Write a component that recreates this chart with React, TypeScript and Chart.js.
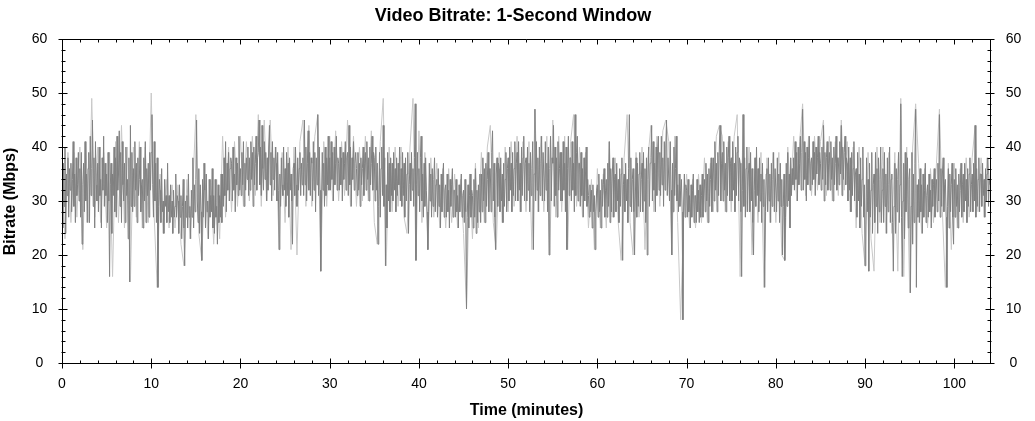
import React, { useEffect, useRef } from "react";
import { Chart, registerables } from "chart.js";

Chart.register(...registerables);

const TITLE = "Video Bitrate: 1-Second Window";
const X_TITLE = "Time (minutes)";
const Y_TITLE = "Bitrate (Mbps)";
const X_MAX = 104;
const Y_MAX = 60;
const X_TICKS = [0, 10, 20, 30, 40, 50, 60, 70, 80, 90, 100];
const Y_TICKS = [0, 10, 20, 30, 40, 50, 60];
const X_MINOR_STEP = 2;
const Y_MINOR_STEP = 2;

// samples per minute of each trace
const DARK_PER_MIN = 12;
const LIGHT_PER_MIN = 3;

// main (dark) trace, Mbps, one row per minute (0..103)
const DARK = [
  33, 25, 37, 29, 40, 24, 35, 31, 38, 27, 36, 32,
  37, 28, 34, 41, 29, 35, 26, 38, 31, 33, 39, 30,
  36, 27, 39, 22, 33, 37, 28, 41, 30, 35, 26, 36,
  39, 26, 42, 31, 36, 45, 29, 38, 25, 41, 33, 30,
  37, 28, 40, 31, 34, 25, 38, 32, 42, 29, 37, 31,
  35, 26, 39, 30, 16, 33, 37, 24, 35, 31, 40, 28,
  38, 27, 42, 32, 35, 43, 29, 39, 26, 41, 33, 30,
  37, 26, 40, 31, 34, 23, 38, 15, 44, 29, 39, 28,
  36, 29, 41, 32, 37, 26, 38, 31, 34, 40, 28, 33,
  34, 25, 38, 30, 41, 26, 36, 31, 37, 27, 39, 32,
  39, 46, 33, 27, 41, 30, 37, 26, 38, 14, 29, 34,
  32, 26, 36, 28, 30, 24, 34, 29, 31, 26, 37, 28,
  31, 26, 33, 27, 30, 24, 32, 27, 29, 35, 27, 31,
  30, 24, 33, 27, 31, 23, 29, 34, 25, 18, 30, 27,
  31, 25, 35, 27, 29, 23, 32, 27, 38, 25, 33, 28,
  34, 45, 30, 26, 36, 24, 33, 28, 19, 34, 27, 37,
  32, 25, 35, 28, 30, 23, 34, 27, 31, 28, 36, 25,
  31, 24, 34, 27, 29, 22, 33, 26, 31, 27, 35, 26,
  35, 29, 38, 31, 41, 28, 37, 32, 39, 30, 36, 38,
  37, 30, 40, 32, 35, 28, 38, 33, 37, 31, 42, 32,
  36, 31, 39, 33, 41, 29, 37, 32, 38, 34, 40, 31,
  38, 32, 41, 34, 39, 29, 40, 33, 37, 42, 32, 38,
  39, 45, 33, 40, 31, 44, 36, 32, 41, 34, 39, 30,
  38, 32, 40, 44, 33, 39, 30, 41, 34, 38, 32, 40,
  37, 30, 39, 32, 21, 35, 29, 38, 33, 31, 40, 32,
  36, 29, 39, 31, 37, 27, 38, 32, 35, 30, 22, 36,
  37, 31, 40, 33, 29, 38, 32, 36, 39, 31, 37, 33,
  38, 31, 45, 33, 40, 30, 37, 43, 32, 39, 31, 38,
  37, 30, 41, 32, 39, 28, 38, 33, 46, 31, 40, 32,
  17, 30, 39, 32, 37, 29, 40, 31, 38, 33, 42, 32,
  38, 32, 41, 34, 39, 30, 40, 33, 37, 42, 32, 38,
  37, 32, 40, 33, 38, 30, 39, 34, 37, 41, 32, 38,
  39, 31, 44, 33, 40, 29, 38, 34, 41, 32, 37, 39,
  36, 31, 39, 32, 37, 29, 38, 33, 36, 40, 31, 37,
  39, 32, 41, 34, 38, 30, 40, 33, 37, 42, 32, 39,
  38, 30, 40, 32, 37, 22, 29, 39, 27, 36, 40, 31,
  44, 29, 38, 18, 33, 25, 39, 30, 37, 28, 38, 31,
  37, 30, 39, 32, 36, 28, 38, 31, 37, 33, 40, 30,
  36, 29, 39, 31, 37, 27, 38, 30, 35, 39, 24, 33,
  37, 30, 39, 32, 36, 29, 38, 48, 19, 33, 39, 31,
  36, 28, 38, 42, 30, 35, 27, 37, 29, 38, 32, 28,
  21, 28, 37, 30, 35, 27, 36, 29, 34, 38, 28, 33,
  34, 27, 36, 29, 33, 25, 35, 28, 34, 37, 27, 32,
  33, 27, 35, 28, 32, 25, 34, 29, 33, 36, 27, 32,
  32, 27, 34, 28, 31, 25, 33, 28, 32, 35, 27, 31,
  32, 26, 34, 28, 10, 27, 33, 25, 31, 35, 27, 32,
  31, 25, 34, 27, 36, 24, 32, 26, 33, 28, 35, 26,
  35, 28, 38, 30, 36, 26, 37, 29, 34, 39, 28, 36,
  36, 28, 39, 43, 30, 37, 27, 21, 35, 38, 29, 37,
  36, 28, 38, 30, 35, 26, 37, 29, 34, 39, 28, 36,
  38, 30, 40, 32, 37, 28, 39, 31, 36, 41, 30, 37,
  39, 30, 41, 32, 37, 28, 40, 31, 38, 42, 30, 37,
  38, 30, 40, 32, 37, 28, 39, 31, 36, 41, 21, 35,
  47, 30, 41, 32, 38, 28, 40, 31, 37, 42, 30, 39,
  39, 30, 41, 32, 37, 28, 40, 20, 36, 42, 30, 38,
  37, 44, 29, 40, 31, 38, 27, 41, 32, 36, 39, 30,
  39, 30, 41, 32, 37, 28, 40, 21, 36, 42, 31, 38,
  38, 30, 41, 32, 37, 28, 46, 31, 39, 42, 30, 37,
  37, 29, 39, 31, 36, 27, 38, 30, 35, 40, 29, 34,
  31, 27, 33, 28, 32, 25, 33, 28, 31, 21, 28, 32,
  33, 27, 35, 28, 32, 25, 34, 29, 33, 36, 27, 32,
  34, 27, 37, 29, 41, 26, 36, 28, 35, 38, 27, 34,
  35, 28, 37, 30, 34, 26, 36, 29, 35, 38, 19, 33,
  35, 28, 37, 30, 34, 26, 36, 46, 29, 38, 28, 34,
  36, 28, 20, 30, 38, 27, 37, 29, 35, 39, 28, 34,
  37, 28, 39, 30, 36, 26, 38, 20, 34, 40, 29, 37,
  38, 44, 30, 41, 32, 37, 28, 40, 31, 39, 42, 32,
  39, 31, 42, 33, 38, 29, 41, 32, 40, 45, 31, 38,
  38, 30, 41, 32, 20, 37, 28, 40, 31, 36, 42, 30,
  33, 28, 35, 29, 32, 34, 28, 8, 30, 35, 27, 33,
  32, 27, 34, 28, 31, 25, 33, 27, 32, 35, 26, 31,
  31, 26, 34, 28, 32, 26, 33, 27, 31, 35, 27, 32,
  34, 28, 37, 30, 35, 26, 36, 29, 34, 38, 28, 35,
  38, 30, 41, 32, 37, 28, 39, 31, 40, 44, 30, 37,
  39, 30, 41, 32, 37, 28, 40, 31, 38, 42, 30, 37,
  38, 30, 41, 32, 37, 28, 40, 31, 39, 42, 30, 38,
  37, 28, 16, 32, 46, 29, 38, 27, 36, 40, 28, 35,
  37, 28, 39, 30, 36, 26, 20, 32, 38, 29, 40, 31,
  36, 28, 38, 30, 35, 26, 37, 29, 34, 14, 28, 35,
  36, 28, 38, 30, 35, 26, 37, 29, 34, 39, 28, 36,
  36, 28, 38, 30, 35, 26, 37, 29, 34, 20, 29, 35,
  19, 27, 37, 29, 39, 30, 35, 25, 38, 31, 36, 33,
  38, 32, 41, 34, 39, 30, 40, 33, 37, 42, 32, 39,
  47, 32, 41, 34, 39, 30, 40, 33, 38, 42, 32, 37,
  38, 33, 41, 34, 39, 31, 40, 35, 38, 42, 33, 39,
  37, 32, 40, 34, 44, 30, 39, 33, 38, 41, 32, 37,
  39, 32, 41, 34, 38, 30, 40, 33, 37, 42, 32, 38,
  38, 33, 41, 35, 44, 31, 40, 34, 39, 42, 33, 38,
  37, 30, 40, 32, 38, 28, 39, 31, 36, 41, 30, 35,
  36, 27, 39, 30, 35, 25, 38, 29, 34, 40, 27, 33,
  18, 25, 38, 28, 34, 17, 37, 27, 32, 39, 24, 33,
  35, 26, 39, 29, 36, 24, 38, 28, 34, 40, 26, 32,
  36, 26, 39, 29, 35, 24, 38, 28, 33, 40, 26, 34,
  35, 26, 17, 29, 37, 24, 36, 28, 34, 39, 26, 33,
  48, 27, 16, 30, 37, 23, 39, 28, 35, 38, 25, 34,
  36, 13, 29, 39, 22, 35, 26, 37, 47, 14, 33, 27,
  34, 26, 36, 28, 33, 24, 35, 27, 32, 37, 26, 31,
  33, 27, 35, 28, 32, 25, 34, 29, 33, 36, 27, 32,
  34, 28, 37, 30, 46, 27, 36, 29, 35, 38, 28, 33,
  34, 27, 14, 29, 36, 25, 35, 28, 33, 37, 27, 22,
  34, 27, 36, 29, 33, 25, 35, 28, 32, 37, 27, 33,
  35, 28, 37, 30, 34, 26, 36, 29, 35, 38, 28, 33,
  35, 28, 37, 30, 44, 27, 36, 29, 34, 38, 28, 35,
  35, 29, 37, 31, 34, 27, 36, 30, 35, 38, 29, 34,
  33,
];

// light (peak) trace, Mbps, one row per 4 minutes
const LIGHT = [
  38, 23, 39, 26, 39, 27, 40, 21, 41, 26, 49, 27,
  40, 26, 39, 25, 39, 16, 41, 26, 44, 25, 40, 15,
  40, 27, 41, 25, 40, 26, 50, 27, 14, 35, 24, 34,
  25, 33, 25, 33, 22, 18, 34, 23, 33, 46, 24, 19,
  35, 23, 34, 22, 34, 23, 42, 27, 40, 28, 41, 29,
  42, 29, 41, 30, 42, 31, 46, 29, 45, 30, 45, 31,
  40, 21, 39, 26, 40, 21, 40, 20, 41, 45, 29, 44,
  29, 42, 46, 17, 41, 29, 42, 30, 43, 30, 41, 31,
  45, 29, 42, 29, 40, 30, 42, 30, 43, 26, 22, 41,
  49, 18, 40, 28, 40, 29, 40, 27, 24, 40, 49, 19,
  43, 26, 39, 21, 38, 27, 37, 25, 36, 25, 36, 26,
  35, 25, 34, 24, 10, 35, 23, 37, 25, 39, 26, 40,
  44, 26, 21, 39, 26, 40, 28, 41, 29, 42, 28, 41,
  28, 41, 21, 47, 28, 42, 28, 42, 20, 45, 27, 42,
  28, 42, 21, 41, 46, 29, 40, 27, 39, 25, 34, 21,
  36, 25, 35, 25, 41, 27, 38, 26, 19, 38, 46, 26,
  20, 39, 27, 40, 21, 38, 44, 28, 42, 29, 43, 45,
  41, 20, 42, 26, 8, 27, 35, 25, 34, 25, 35, 26,
  38, 26, 37, 28, 42, 44, 42, 28, 41, 28, 42, 46,
  16, 46, 28, 40, 20, 38, 26, 39, 14, 38, 26, 39,
  26, 39, 20, 19, 40, 31, 42, 30, 41, 48, 31, 42,
  31, 42, 32, 41, 45, 31, 42, 30, 41, 31, 45, 32,
  41, 28, 40, 25, 40, 24, 18, 39, 23, 17, 40, 26,
  40, 24, 39, 24, 39, 17, 49, 16, 40, 13, 40, 48,
  37, 24, 36, 25, 36, 26, 37, 47, 28, 14, 37, 21,
  37, 25, 36, 26, 38, 27, 38, 44, 28, 38, 27, 38,
  33,
];

const DARK_POINTS = DARK.map((v, i) => ({ x: i / DARK_PER_MIN, y: v }));
const LIGHT_POINTS = LIGHT.map((v, i) => ({ x: i / LIGHT_PER_MIN, y: v }));

const FONT = '"Liberation Sans", Arial, sans-serif';

const axesPlugin = {
  id: "axesFrame",
  afterDraw(chart: any) {
    const ctx = chart.ctx as CanvasRenderingContext2D;
    const xs = chart.scales.x;
    const ys = chart.scales.y;
    const L = Math.round(xs.getPixelForValue(0)) + 0.5;
    const R = Math.round(xs.getPixelForValue(X_MAX)) + 0.5;
    const B = Math.round(ys.getPixelForValue(0)) + 0.5;
    const T = Math.round(ys.getPixelForValue(Y_MAX)) + 0.5;
    ctx.save();
    ctx.strokeStyle = "#000";
    ctx.lineWidth = 1;
    ctx.beginPath();
    ctx.rect(L, T, R - L, B - T);
    for (let v = 0; v <= X_MAX; v += X_MINOR_STEP) {
      const px = Math.round(xs.getPixelForValue(v)) + 0.5;
      const major = v % 10 === 0;
      const inLen = major ? 5 : 3;
      const outLen = major ? 5 : 0;
      ctx.moveTo(px, B + outLen);
      ctx.lineTo(px, B - inLen);
      ctx.moveTo(px, T);
      ctx.lineTo(px, T + inLen);
    }
    for (let v = 0; v <= Y_MAX; v += Y_MINOR_STEP) {
      const py = Math.round(ys.getPixelForValue(v)) + 0.5;
      const major = v % 10 === 0;
      const inLen = major ? 5 : 3;
      const outLen = major ? 4 : 1;
      ctx.moveTo(L - outLen, py);
      ctx.lineTo(L + inLen, py);
      ctx.moveTo(R + outLen, py);
      ctx.lineTo(R - inLen, py);
    }
    ctx.stroke();

    ctx.fillStyle = "#000";
    ctx.font = `14px ${FONT}`;
    ctx.textAlign = "center";
    ctx.textBaseline = "middle";
    X_TICKS.forEach((v) => {
      ctx.fillText(String(v), xs.getPixelForValue(v), B + 21);
    });
    Y_TICKS.forEach((v) => {
      const py = ys.getPixelForValue(v);
      ctx.fillText(String(v), L - 23, py);
      ctx.fillText(String(v), R + 23, py);
    });

    ctx.font = `bold 16px ${FONT}`;
    ctx.fillText(X_TITLE, (L + R) / 2, B + 47);
    ctx.save();
    ctx.translate(11, (T + B) / 2);
    ctx.rotate(-Math.PI / 2);
    ctx.fillText(Y_TITLE, 0, 0);
    ctx.restore();

    ctx.font = `bold 18px ${FONT}`;
    ctx.fillText(TITLE, 513, 16);
    ctx.restore();
  },
};

export default function App() {
  const ref = useRef<HTMLCanvasElement | null>(null);
  useEffect(() => {
    if (!ref.current) return;
    const chart = new Chart(ref.current, {
      type: "line",
      data: {
        datasets: [
          {
            label: "1-second bitrate",
            data: DARK_POINTS,
            borderColor: "#808080",
            borderWidth: 1,
            pointRadius: 0,
            tension: 0,
            fill: false,
            order: 0,
          },
          {
            label: "peak",
            data: LIGHT_POINTS,
            borderColor: "#c8c8c8",
            borderWidth: 1,
            pointRadius: 0,
            tension: 0,
            fill: false,
            order: 1,
          },
        ],
      },
      options: {
        responsive: false,
        animation: false,
        events: [],
        layout: { padding: { left: 62, right: 45, top: 39, bottom: 58 } },
        scales: {
          x: { type: "linear", min: 0, max: X_MAX, display: false },
          y: { type: "linear", min: 0, max: Y_MAX, display: false },
        },
        plugins: {
          legend: { display: false },
          tooltip: { enabled: false },
          title: { display: false },
        },
      },
      plugins: [axesPlugin],
    });
    return () => chart.destroy();
  }, []);
  return (
    <div style={{ position: "absolute", left: 0, top: 0, width: 1035, height: 421, background: "#fff" }}>
      <canvas ref={ref} width={1035} height={421} />
    </div>
  );
}
